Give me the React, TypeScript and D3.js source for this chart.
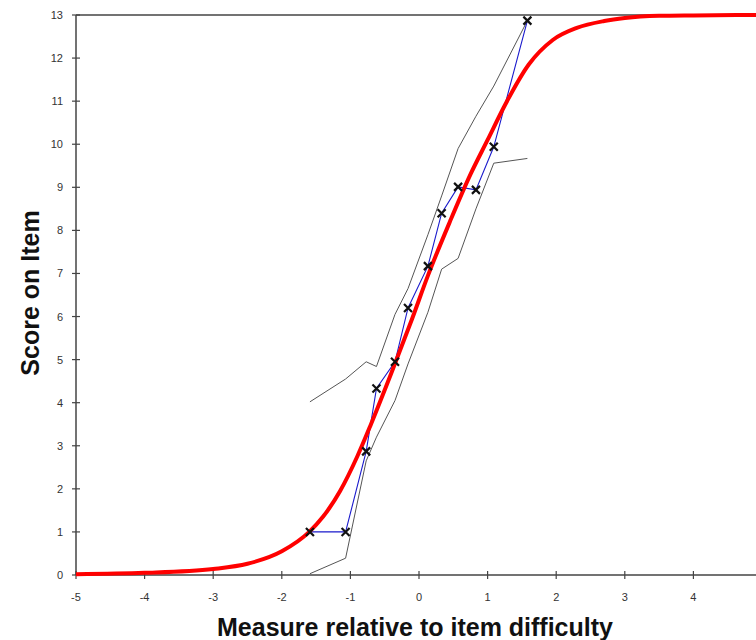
import { useEffect, useRef } from 'react';
import * as d3 from 'd3';

// empirical points (blue line + x markers)
const pointX = [-1.59, -1.07, -0.77, -0.62, -0.35, -0.16, 0.13, 0.33, 0.57, 0.83, 1.09, 1.58];
const pointY = [1.0, 1.0, 2.87, 4.33, 4.95, 6.2, 7.17, 8.4, 9.01, 8.94, 9.94, 12.87];

// confidence band (gray lines), same x as the points
const upperY = [4.02, 4.55, 4.95, 4.84, 6.05, 6.65, 7.9, 8.8, 9.9, 10.65, 11.35, 12.87];
const lowerY = [0.03, 0.39, 2.65, 3.2, 4.05, 4.9, 6.1, 7.1, 7.35, 8.5, 9.56, 9.67];

// model curve (red)
const modelX = [-5, -4, -3, -2.5, -2, -1.6, -1.4, -1.15, -0.9, -0.7, -0.4, -0.1, 0.13, 0.45, 0.75, 1.0, 1.25, 1.6, 1.95, 2.3, 2.7, 3, 3.5, 4, 5];
const modelY = [0.02, 0.05, 0.14, 0.26, 0.55, 1.0, 1.35, 1.95, 2.75, 3.5, 4.7, 5.95, 6.95, 8.2, 9.3, 10.1, 10.9, 11.85, 12.42, 12.7, 12.86, 12.93, 12.98, 12.99, 13.0];

const xTicks = [-5, -4, -3, -2, -1, 0, 1, 2, 3, 4, 5];
const yTicks = [0, 1, 2, 3, 4, 5, 6, 7, 8, 9, 10, 11, 12, 13];

const FONT = "Arial, 'Liberation Sans', sans-serif";

const App = () => {
    const ref = useRef<SVGSVGElement>(null);
    const width = 756,
        height = 640;

    useEffect(() => {
        const svg = d3.select(ref.current).attr('width', width).attr('height', height);
        svg.selectAll('*').remove();

        const x = d3.scaleLinear().domain([-5, 5]).range([76, 762]);
        const y = d3.scaleLinear().domain([0, 13]).range([575, 15]);

        const axisColor = '#444';

        // top border
        svg.append('line')
            .attr('x1', x(-5))
            .attr('x2', width)
            .attr('y1', y(13))
            .attr('y2', y(13))
            .attr('stroke', axisColor)
            .attr('stroke-width', 1.5);

        // y axis
        const yAxis = svg.append('g').attr('transform', `translate(${x(-5)},0)`);
        yAxis.append('line').attr('y1', y(0)).attr('y2', y(13)).attr('stroke', axisColor).attr('stroke-width', 1.5);
        yAxis.selectAll('line.tick')
            .data(yTicks)
            .enter()
            .append('line')
            .attr('class', 'tick')
            .attr('x1', -4)
            .attr('x2', 4)
            .attr('y1', (d) => y(d))
            .attr('y2', (d) => y(d))
            .attr('stroke', axisColor)
            .attr('stroke-width', 1.2);
        yAxis.selectAll('text')
            .data(yTicks)
            .enter()
            .append('text')
            .attr('x', -13)
            .attr('y', (d) => y(d) + 4)
            .attr('text-anchor', 'end')
            .attr('font-family', FONT)
            .attr('font-size', 11)
            .attr('fill', '#333')
            .text((d) => d);

        // x axis
        const xAxis = svg.append('g').attr('transform', `translate(0,${y(0)})`);
        xAxis.append('line').attr('x1', x(-5)).attr('x2', width).attr('stroke', axisColor).attr('stroke-width', 1.5);
        xAxis.selectAll('line.tick')
            .data(xTicks)
            .enter()
            .append('line')
            .attr('class', 'tick')
            .attr('x1', (d) => x(d))
            .attr('x2', (d) => x(d))
            .attr('y1', -4)
            .attr('y2', 4)
            .attr('stroke', axisColor)
            .attr('stroke-width', 1.2);
        // the last label falls outside the picture, like in the original
        xAxis.selectAll('text')
            .data(xTicks.filter((d) => x(d) < width - 5))
            .enter()
            .append('text')
            .attr('x', (d) => x(d))
            .attr('y', 26)
            .attr('text-anchor', 'middle')
            .attr('font-family', FONT)
            .attr('font-size', 11)
            .attr('fill', '#333')
            .text((d) => d);

        // titles
        svg.append('text')
            .attr('x', 415)
            .attr('y', 636)
            .attr('text-anchor', 'middle')
            .attr('font-family', FONT)
            .attr('font-size', 25)
            .attr('font-weight', 'bold')
            .attr('fill', '#111')
            .text('Measure relative to item difficulty');

        svg.append('text')
            .attr('transform', `translate(39,293) rotate(-90)`)
            .attr('text-anchor', 'middle')
            .attr('font-family', FONT)
            .attr('font-size', 25)
            .attr('font-weight', 'bold')
            .attr('fill', '#111')
            .text('Score on Item');

        const line = d3
            .line<[number, number]>()
            .x((d) => x(d[0]))
            .y((d) => y(d[1]));

        // confidence band lines
        const upper = pointX.map((v, i) => [v, upperY[i]] as [number, number]);
        const lower = pointX.map((v, i) => [v, lowerY[i]] as [number, number]);
        [upper, lower].forEach((pts) => {
            svg.append('path')
                .attr('d', line(pts))
                .attr('fill', 'none')
                .attr('stroke', '#555')
                .attr('stroke-width', 1);
        });

        // empirical line
        const emp = pointX.map((v, i) => [v, pointY[i]] as [number, number]);
        svg.append('path')
            .attr('d', line(emp))
            .attr('fill', 'none')
            .attr('stroke', '#1a1acc')
            .attr('stroke-width', 1.1);

        // model curve
        const model = modelX.map((v, i) => [v, modelY[i]] as [number, number]);
        svg.append('path')
            .attr('d', line.curve(d3.curveMonotoneX)(model))
            .attr('fill', 'none')
            .attr('stroke', '#ff0000')
            .attr('stroke-width', 4);

        // x markers
        const s = 4;
        const marks = svg.append('g');
        emp.forEach((d) => {
            const cx = x(d[0]),
                cy = y(d[1]);
            marks.append('path')
                .attr('d', `M${cx - s},${cy - s}L${cx + s},${cy + s}M${cx - s},${cy + s}L${cx + s},${cy - s}`)
                .attr('stroke', '#111')
                .attr('stroke-width', 2.2);
        });
    }, []);

    return <svg ref={ref} style={{ position: 'absolute', left: 0, top: 0, background: '#fff' }}></svg>;
};

export default App;
